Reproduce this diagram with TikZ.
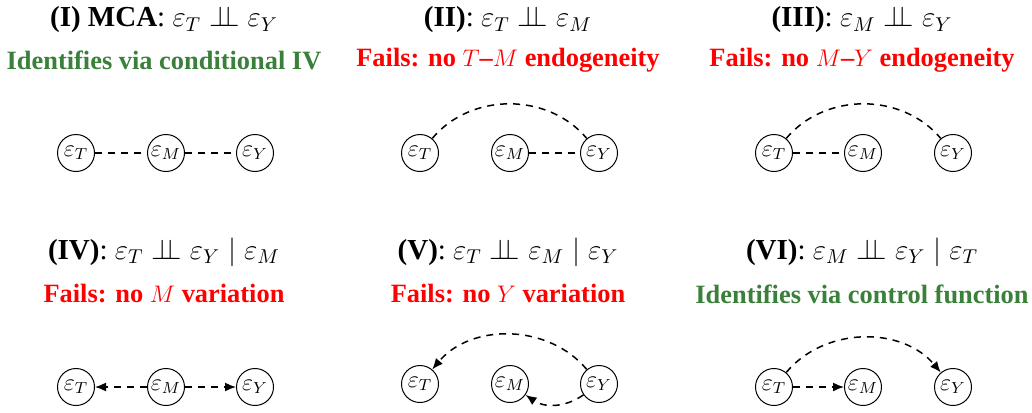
\documentclass[tikz,border=0pt]{standalone}
\usepackage{fontspec}
\setmainfont{Liberation Serif}
\usetikzlibrary{arrows.meta}
\definecolor{okgreen}{RGB}{58,128,58}
\definecolor{badred}{RGB}{255,0,0}
\newcommand{\indep}{\mathrel{\perp\!\!\!\perp}}
\tikzset{
  ev/.style={circle,draw,line width=0.5pt,inner sep=0pt,minimum size=18.5pt,font=\fontsize{12}{14}\selectfont},
  link/.style={dashed,line width=0.75pt,dash pattern=on 3.5pt off 3pt},
  arr/.style={link,-{Latex[length=5.5pt,width=4.5pt]}},
  ttl/.style={font=\fontsize{14.5}{16}\selectfont\bfseries},
  verdict/.style={font=\fontsize{13.2}{16}\selectfont\bfseries},
}
\begin{document}
\begin{tikzpicture}[x=0.5pt,y=-0.5pt]
\useasboundingbox (0,0) rectangle (1032,412);
% Row 1 headings
\node[ttl] (h1) at (164,20) {(I) MCA\textmd{: $\varepsilon_T \indep \varepsilon_Y$}};
\node[verdict,text=okgreen] (v1) at (164,60) {Identifies via conditional IV};
\node[ttl] (h2) at (508,20) {(II)\textmd{: $\varepsilon_T \indep \varepsilon_M$}};
\node[verdict,text=badred] (v2) at (508,60) {Fails: no $T$\textendash$M$ endogeneity};
\node[ttl] (h3) at (862,20) {(III)\textmd{: $\varepsilon_M \indep \varepsilon_Y$}};
\node[verdict,text=badred] (v3) at (862,60) {Fails: no $M$\textendash$Y$ endogeneity};
% Row 2 headings
\node[ttl] (h4) at (164,252) {(IV)\textmd{: $\varepsilon_T \indep \varepsilon_Y \mid \varepsilon_M$}};
\node[verdict,text=badred] (v4) at (164,294) {Fails: no $M$ variation};
\node[ttl] (h5) at (508,252) {(V)\textmd{: $\varepsilon_T \indep \varepsilon_M \mid \varepsilon_Y$}};
\node[verdict,text=badred] (v5) at (508,294) {Fails: no $Y$ variation};
\node[ttl] (h6) at (862,252) {(VI)\textmd{: $\varepsilon_M \indep \varepsilon_Y \mid \varepsilon_T$}};
\node[verdict,text=okgreen] (v6) at (862,294) {Identifies via control function};
% Panel I
\node[ev] (T1) at (76,153) {$\varepsilon_T$};
\node[ev] (M1) at (166,153) {$\varepsilon_M$};
\node[ev] (Y1) at (255,153) {$\varepsilon_Y$};
\draw[link] (T1) -- (M1);
\draw[link] (M1) -- (Y1);
% Panel II
\node[ev] (T2) at (420,153) {$\varepsilon_T$};
\node[ev] (M2) at (510,153) {$\varepsilon_M$};
\node[ev] (Y2) at (599,153) {$\varepsilon_Y$};
\draw[link] (T2) to[out=50,in=130] (Y2);
\draw[link] (M2) -- (Y2);
% Panel III
\node[ev] (T3) at (774,153) {$\varepsilon_T$};
\node[ev] (M3) at (863,153) {$\varepsilon_M$};
\node[ev] (Y3) at (953,153) {$\varepsilon_Y$};
\draw[link] (T3) to[out=50,in=130] (Y3);
\draw[link] (T3) -- (M3);
% Panel IV
\node[ev] (T4) at (76,387) {$\varepsilon_T$};
\node[ev] (M4) at (166,387) {$\varepsilon_M$};
\node[ev] (Y4) at (255,387) {$\varepsilon_Y$};
\draw[arr] (M4) -- (T4);
\draw[arr] (M4) -- (Y4);
% Panel V
\node[ev] (T5) at (420,384) {$\varepsilon_T$};
\node[ev] (M5) at (510,384) {$\varepsilon_M$};
\node[ev] (Y5) at (599,384) {$\varepsilon_Y$};
\draw[arr] (Y5) to[out=130,in=50] (T5);
\draw[arr] (Y5) to[bend left=35] (M5);
% Panel VI
\node[ev] (T6) at (774,387) {$\varepsilon_T$};
\node[ev] (M6) at (863,387) {$\varepsilon_M$};
\node[ev] (Y6) at (953,387) {$\varepsilon_Y$};
\draw[arr] (T6) to[out=50,in=130] (Y6);
\draw[arr] (T6) -- (M6);
\end{tikzpicture}
\end{document}
